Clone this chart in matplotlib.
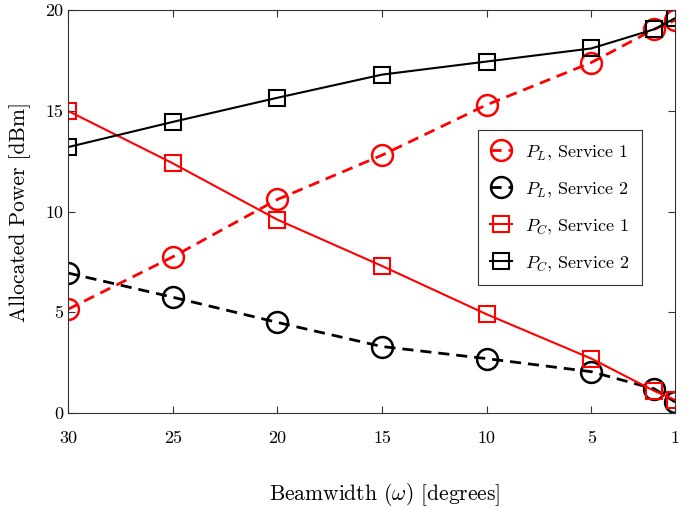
import numpy as np
import matplotlib
matplotlib.use("Agg")
import matplotlib.pyplot as plt

plt.rcParams['font.family'] = 'cmr10'
plt.rcParams['mathtext.fontset'] = 'cm'
plt.rcParams['axes.unicode_minus'] = False

beamwidth = [30, 25, 20, 15, 10, 5, 2, 1]
pl_s1 = [5.15, 7.75, 10.6, 12.8, 15.3, 17.4, 19.05, 19.5]
pl_s2 = [6.95, 5.75, 4.5, 3.3, 2.7, 2.05, 1.2, 0.55]
pc_s1 = [15.0, 12.4, 9.6, 7.3, 4.9, 2.7, 1.1, 0.65]
pc_s2 = [13.2, 14.45, 15.65, 16.8, 17.45, 18.1, 19.05, 19.6]
xticks = [30, 25, 20, 15, 10, 5, 1]
yticks = [0, 5, 10, 15, 20]

fig = plt.figure(figsize=(6.86, 5.08), dpi=100)
ax = fig.add_axes([0.0991, 0.187, 0.885, 0.793])

ax.plot(beamwidth, pl_s1, color='red', ls='--', lw=2, marker='o', ms=15,
        mfc='none', mew=1.8, dashes=(4, 2.5), label=r'$P_L$, Service 1')
ax.plot(beamwidth, pl_s2, color='black', ls='--', lw=2, marker='o', ms=15,
        mfc='none', mew=1.8, dashes=(4, 2.5), label=r'$P_L$, Service 2')
ax.plot(beamwidth, pc_s1, color='red', ls='-', lw=1.5, marker='s', ms=11.5,
        mfc='none', mew=1.5, label=r'$P_C$, Service 1')
ax.plot(beamwidth, pc_s2, color='black', ls='-', lw=1.5, marker='s', ms=11.5,
        mfc='none', mew=1.5, label=r'$P_C$, Service 2')

ax.set_xlim(30, 1)
ax.set_ylim(0, 20)
ax.set_xticks(xticks)
ax.set_yticks(yticks)
ax.tick_params(direction='in', top=True, right=True, length=5,
               labelsize=13, color='#333333')
ax.tick_params(axis='x', pad=13)
for s in ax.spines.values():
    s.set_color('#333333')
    s.set_linewidth(0.8)

ax.set_xlabel(r'Beamwidth ($\omega$) [degrees]', fontsize=15.5, va='center')
ax.xaxis.set_label_coords(0.522, -0.203)
ax.set_ylabel('Allocated Power [dBm]', fontsize=15.5, labelpad=10)

leg = ax.legend(loc='upper left', bbox_to_anchor=(0.675, 0.702), fontsize=13,
                handlelength=1.2, handletextpad=0.7, labelspacing=1.0,
                fancybox=False, framealpha=1, borderpad=0.7, borderaxespad=0)
leg.get_frame().set_edgecolor('#333333')
leg.get_frame().set_linewidth(0.8)

fig.savefig('out.png', dpi=100)
